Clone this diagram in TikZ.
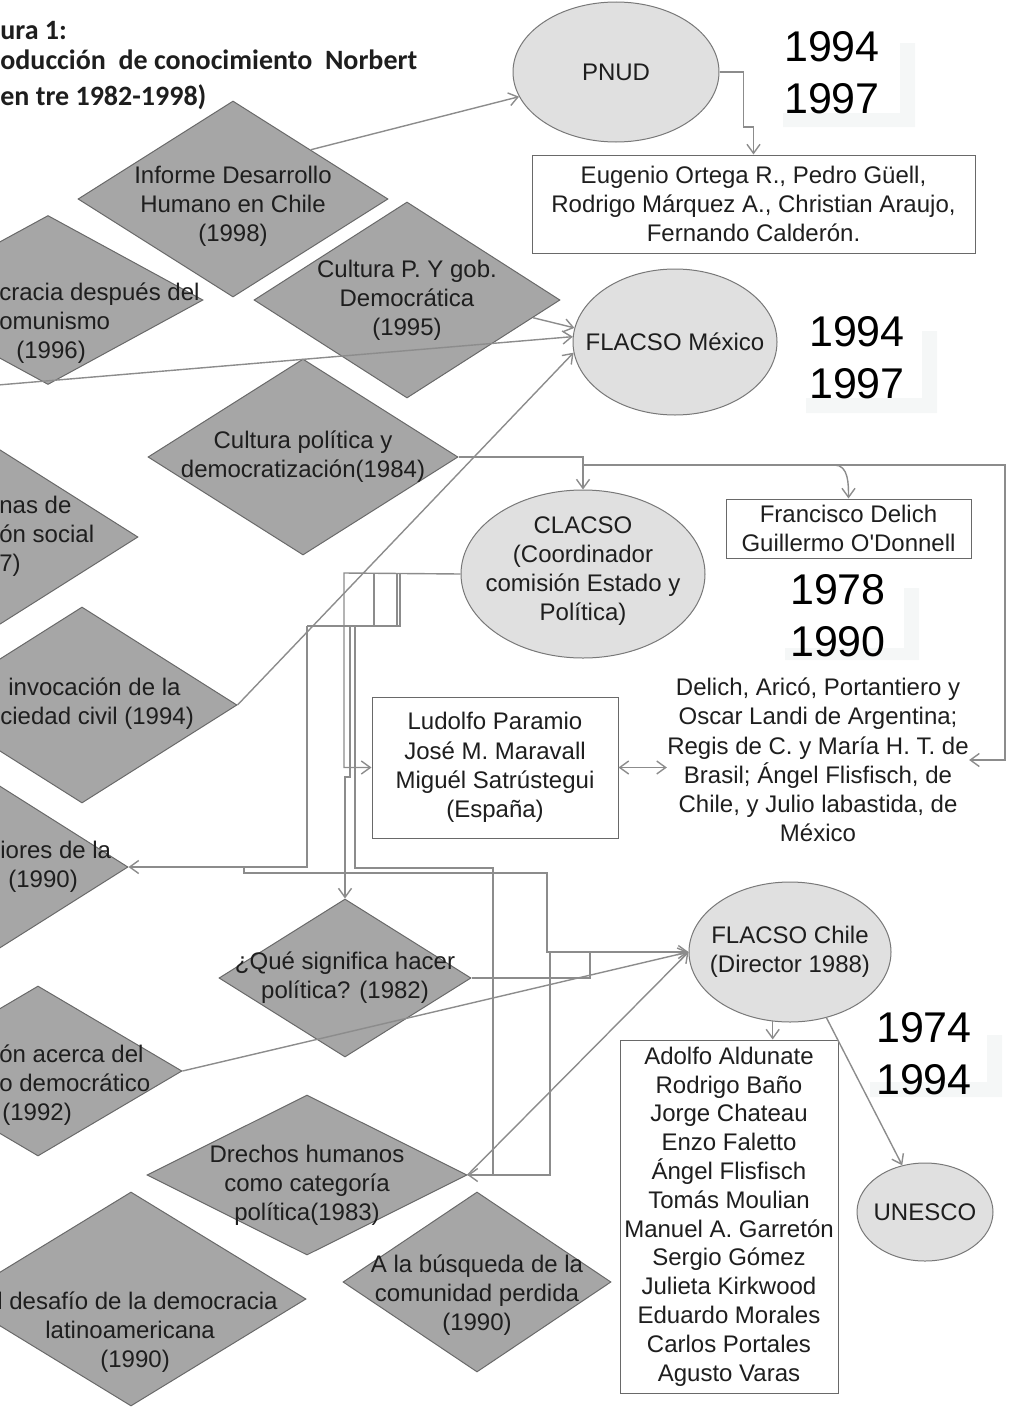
\documentclass[tikz,border=0pt]{standalone}
\usepackage{fontspec}
\setmainfont{Liberation Sans}
\newfontfamily\titlefont{Carlito}
\usetikzlibrary{shapes.geometric,arrows.meta,calc}
\definecolor{diafill}{RGB}{166,166,166}
\definecolor{diaedge}{RGB}{105,105,105}
\definecolor{ovalfill}{RGB}{224,224,224}
\definecolor{ovaledge}{RGB}{120,120,120}
\definecolor{linkgray}{RGB}{140,140,140}
\definecolor{ghost}{RGB}{245,247,247}
\definecolor{ink}{RGB}{30,30,30}

\begin{document}
\begin{tikzpicture}[x=0.5pt, y=-0.5pt,
    txt/.style={inner sep=0pt, align=center, text=ink, font=\fontsize{12}{14.6}\selectfont},
    work/.style={diamond, draw=diaedge, fill=diafill, line width=0.5pt, inner sep=0pt},
    inst/.style={ellipse, draw=ovaledge, fill=ovalfill, line width=0.5pt, inner sep=0pt},
    people/.style={rectangle, draw=diaedge, fill=white, line width=0.5pt, txt, inner sep=2pt},
    years/.style={inner sep=0pt, align=center, text=black, font=\fontsize{21.5}{26}\selectfont},
    link/.style={draw=linkgray, line width=0.7pt, -{Straight Barb[length=4.5pt,width=6.5pt]}},
    wire/.style={draw=linkgray, line width=0.7pt}]
        \useasboundingbox (0,0) rectangle (1008,1408);
        \clip (0,0) rectangle (1008,1408);

        % faint shadows behind the years
        \fill[ghost] (900,43) -- (915,43) -- (915,127) -- (783,127) -- (783,113) -- (900,113) -- cycle;
        \fill[ghost] (922,331) -- (937,331) -- (937,413) -- (806,413) -- (806,398) -- (922,398) -- cycle;
        \fill[ghost] (904,588) -- (919,588) -- (919,660) -- (785,660) -- (785,648) -- (904,648) -- cycle;
        \fill[ghost] (987,1035) -- (1002,1035) -- (1002,1097) -- (870,1097) -- (870,1082) -- (987,1082) -- cycle;

        \node[anchor=west, inner sep=0pt, align=left, text=ink, font=\titlefont\bfseries\fontsize{14}{15}\selectfont] (title) at (0,66) {ura 1:\\oducción~ de conocimiento~ Norbert\\[3pt]en tre 1982-1998)};

        % works
        \node[work, minimum width=155pt, minimum height=98pt, label={[txt, yshift=-3.5pt]center:{Informe Desarrollo\\Humano en Chile\\(1998)}}] (informe) at (233,199) {};
        \node[work, minimum width=155pt, minimum height=84.5pt] (cracia) at (48,300) {};
        \node[work, minimum width=153pt, minimum height=98pt, label={[txt]center:{Cultura P. Y gob.\\Democrática\\(1995)}}] (culturap) at (407,300) {};
        \node[work, minimum width=155pt, minimum height=98pt, label={[txt]center:{Cultura política y\\democratización(1984)}}] (culturapol) at (303,457) {};
        \node[work, minimum width=155pt, minimum height=98pt] (nas) at (-17,537) {};
        \node[work, minimum width=155pt, minimum height=98pt] (invocacion) at (82,705) {};
        \node[work, minimum width=155pt, minimum height=98pt] (iores) at (-27,867) {};
        \node[work, minimum width=126pt, minimum height=79pt, label={[txt]center:{¿Qué significa hacer\\política? (1982)}}] (que) at (345,978) {};
        \node[work, minimum width=144pt, minimum height=85pt] (acerca) at (38,1071) {};
        \node[work, minimum width=160pt, minimum height=80pt, label={[txt, yshift=-5pt]center:{Drechos humanos\\como categoría\\política(1983)}}] (drechos) at (307,1175) {};
        \node[work, minimum width=175pt, minimum height=107pt] (desafio) at (131,1299) {};
        \node[work, minimum width=134pt, minimum height=90pt, label={[txt, yshift=-6.5pt]center:{A la búsqueda de la\\comunidad perdida\\(1990)}}] (busqueda) at (477,1282) {};

        \node[txt, anchor=west, align=left] (cracia-t) at (-1,323) {cracia después del\\omunismo\\\hspace*{8.5pt}(1996)};
        \node[txt, anchor=west, align=left] (nas-t) at (-1,536) {nas de\\ón social\\7)};
        \node[txt, anchor=west, align=left] (invocacion-t) at (0,704) {\hspace*{4pt}invocación de la\\ciedad civil (1994)};
        \node[txt, anchor=west, align=left] (iores-t) at (0,867) {iores de la\\\hspace*{4pt}(1990)};
        \node[txt, anchor=west, align=left] (acerca-t) at (-1,1085) {ón acerca del\\o democrático\\\hspace*{1.5pt}(1992)};
        \node[txt, anchor=west, align=left] (desafio-t) at (-3,1332) {l desafío de la democracia\\\hspace*{24pt}latinoamericana\\\hspace*{51.5pt}(1990)};

        % institutions
        \node[inst, minimum width=103pt, minimum height=70pt, label={[txt]center:PNUD}] (pnud) at (616,72) {};
        \node[inst, minimum width=102pt, minimum height=73pt, label={[txt]center:FLACSO México}] (flacsomx) at (675,342) {};
        \node[inst, minimum width=122pt, minimum height=84pt, label={[txt, yshift=1.5pt]center:{CLACSO\\(Coordinador\\comisión Estado y\\Política)}}] (clacso) at (583,574) {};
        \node[inst, minimum width=101pt, minimum height=70pt, label={[txt]center:{FLACSO Chile\\(Director 1988)}}] (flacsocl) at (790,952) {};
        \node[inst, minimum width=68pt, minimum height=49pt, label={[txt]center:UNESCO}] (unesco) at (925,1212) {};

        % people
        \node[people, minimum width=221.5pt, minimum height=49pt] (eugenio) at (753.5,204) {Eugenio Ortega R., Pedro Güell,\\Rodrigo Márquez A., Christian Araujo,\\Fernando Calderón.};
        \node[people, minimum width=122.5pt, minimum height=29.5pt] (delich) at (848.5,528.5) {Francisco Delich\\Guillermo O\textquotesingle Donnell};
        \node[people, minimum width=123pt, minimum height=70.5pt] (ludolfo) at (495,767.5) {Ludolfo Paramio\\José M. Maravall\\Miguél Satrústegui\\(España)};
        \node[people, inner xsep=1pt, minimum width=109pt, minimum height=176.5pt, font=\fontsize{12}{14.4}\selectfont] (adolfo) at (729,1216.5) {Adolfo Aldunate\\Rodrigo Baño\\Jorge Chateau\\Enzo Faletto\\Ángel Flisfisch\\Tomás Moulian\\Manuel A. Garretón\\Sergio Gómez\\Julieta Kirkwood\\Eduardo Morales\\Carlos Portales\\Agusto Varas};
        \node[txt] (delichtxt) at (818,760) {Delich, Aricó, Portantiero y\\Oscar Landi de Argentina;\\Regis de C. y María H. T. de\\Brasil; Ángel Flisfisch, de\\Chile, y Julio labastida, de\\México};

        % years
        \node[years] (pnud-y) at (832,73) {1994\\1997};
        \node[years] (flacsomx-y) at (857,358) {1994\\1997};
        \node[years] (clacso-y) at (838,616) {1978\\1990};
        \node[years] (flacsocl-y) at (924,1054) {1974\\1994};

        % connectors
        \coordinate (offleft) at (-2,385);
        \coordinate (split) at (583,465);
        \coordinate (rail) at (1005,465);
        \coordinate (hub) at (344,573);
        \coordinate (busL) at (307,626);
        \coordinate (busR) at (400,626);

        \draw[link] (informe.north east) -- (pnud);
        \draw[link] (pnud.east) -- ++(24,0) -- ++(0,55) -| (eugenio.north);
        \draw[link] (culturap.-8) -- (flacsomx.172);
        \draw[link] (offleft) -- (flacsomx.177);
        \draw[link] (invocacion.east) -- (flacsomx.186);
        \draw[link] (culturapol.east) -| (clacso.north);
        \draw[link] (split) -- (rail) |- (delichtxt.east);
        \draw[link] ($(delich.north |- split)+(-14,0)$) to[out=0,in=90] (delich.north);
        \draw[link, {Straight Barb[length=4.5pt,width=6.5pt]}-{Straight Barb[length=4.5pt,width=6.5pt]}] (ludolfo.east) -- (ludolfo.east -| delichtxt.west);

        \draw[link] (clacso.west) -- (hub) |- (ludolfo.west);
        \draw[wire] (374,573) -- (374,626) (397,573) -- (397,626) (busR |- hub) -- (busR) -- (busL);
        \draw[link] (busL) |- (iores.east);
        \draw[link] (busL |- iores.east) -| (244,873) -| (547,952) -- (flacsocl.west);
        \draw[link] (350,626) -- (350,777) -| (que.north);
        \draw[link] (355,626) |- (493,868) |- (drechos.east);
        \draw[wire] (que.east) -| (590,952);
        \draw[wire] (550,952) |- (drechos.east);
        \draw[link] (acerca.east) -- (flacsocl.west);
        \draw[link] (drechos.east) -- (flacsocl.west);
        \draw[link] (flacsocl.256) -- (flacsocl.256 |- adolfo.north);
        \draw[link] (flacsocl.-61) -- (unesco.116);
    \end{tikzpicture}
\end{document}
